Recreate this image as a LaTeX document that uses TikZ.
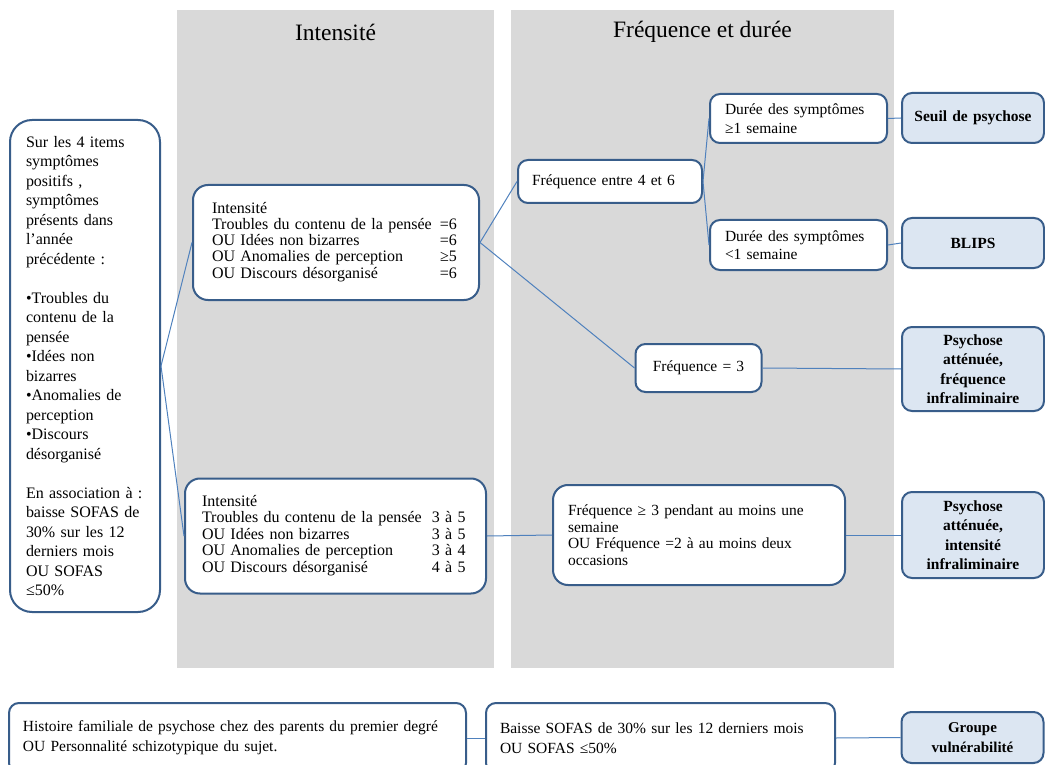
\documentclass[tikz,border=0pt]{standalone}
\usepackage{fontspec}
\setmainfont{Liberation Serif}
\definecolor{panelgray}{RGB}{217,217,217}
\definecolor{boxline}{RGB}{56,93,138}
\definecolor{linkblue}{RGB}{79,129,189}
\definecolor{outfill}{RGB}{220,230,242}

\begin{document}
\begin{tikzpicture}[
    x=1pt, y=-1pt,
    every node/.style={text=black},
    panel/.style={fill=panelgray, draw=none},
    heading/.style={font=\fontsize{23.5}{28}\selectfont},
    critbox/.style={draw=boxline, line width=2pt, fill=white, rounded corners=10pt,
      align=left, inner xsep=15pt, inner ysep=0pt, font=\fontsize{15.5}{18.5}\selectfont},
    outbox/.style={critbox, fill=outfill, align=center, inner xsep=8pt, text width=126pt,
      font=\fontsize{15.5}{19.5}\selectfont\bfseries},
    link/.style={draw=linkblue, line width=1pt}
  ]
  \useasboundingbox (0,0) rectangle (1045,765);
  \clip (0,0) rectangle (1045,765);

  %--------------------------------------
  % 1) grey panels with their headings
  %--------------------------------------
  \fill[panel] (177,10) rectangle (494,668);
  \fill[panel] (511,10) rectangle (894,668);
  \node[heading] (hInt) at (335.5,32) {Intensité};
  \node[heading] (hFreq) at (702.5,32) {Fréquence et durée};

  %--------------------------------------
  % 2) entry criteria (left column)
  %--------------------------------------
  \node[critbox, rounded corners=22pt, inner xsep=16pt, text width=118pt,
    minimum height=492pt, font=\fontsize{16}{19.5}\selectfont] (src) at (85,366)
    {Sur les 4 items\\ symptômes\\ positifs ,\\ symptômes\\ présents dans\\ l’année\\
     précédente :\\[19.5pt]
     •Troubles du\\ contenu de la\\ pensée\\ •Idées non\\ bizarres\\ •Anomalies de\\
     perception\\ •Discours\\ désorganisé\\[19.5pt]
     En association à :\\ baisse SOFAS de\\ 30\% sur les 12\\ derniers mois\\
     OU SOFAS\\ ≤50\%};

  %--------------------------------------
  % 3) intensity boxes
  %--------------------------------------
  \node[critbox, rounded corners=15pt, inner xsep=19pt, text width=248pt,
    minimum height=115pt, font=\fontsize{16}{16.3}\selectfont] (intA) at (336,242.5)
    {Intensité\\
     \begin{tabular}[t]{@{}l@{\hspace{8pt}}r@{}}
       Troubles du contenu de la pensée & =6\\
       OU Idées non bizarres & =6\\
       OU Anomalies de perception & ≥5\\
       OU Discours désorganisé & =6
     \end{tabular}};
  \node[critbox, rounded corners=15pt, inner xsep=17pt, text width=267pt,
    minimum height=115pt, font=\fontsize{16}{16.5}\selectfont] (intB) at (335.5,536)
    {Intensité\\
     \begin{tabular}[t]{@{}l@{\hspace{10pt}}r@{}}
       Troubles du contenu de la pensée & 3 à 5\\
       OU Idées non bizarres & 3 à 5\\
       OU Anomalies de perception & 3 à 4\\
       OU Discours désorganisé & 4 à 5
     \end{tabular}};

  %--------------------------------------
  % 4) frequency and duration boxes
  %--------------------------------------
  \node[critbox, inner xsep=14pt, text width=156pt, minimum height=43pt] (fqHigh) at (610,181.5)
    {Fréquence entre 4 et 6};
  \node[critbox, inner xsep=15pt, text width=147pt, minimum height=49pt] (durLong) at (798.5,118.5)
    {Durée des symptômes\\ ≥1 semaine};
  \node[critbox, inner xsep=15pt, text width=147pt, minimum height=50pt] (durShort) at (798.5,245)
    {Durée des symptômes\\ <1 semaine};
  \node[critbox, align=center, inner xsep=8pt, text width=110pt, minimum height=48pt] (fqThree) at (698.5,368)
    {Fréquence = 3};
  \node[critbox, rounded corners=15pt, inner xsep=15pt, text width=262pt, minimum height=100pt,
    font=\fontsize{15.5}{16.5}\selectfont] (fqWeek) at (699,535)
    {Fréquence ≥ 3 pendant au moins une\\ semaine\\ OU Fréquence =2 à au moins deux\\ occasions};

  %--------------------------------------
  % 5) outcomes (right column)
  %--------------------------------------
  \node[outbox, minimum height=50pt] (seuil) at (973,118) {Seuil de psychose};
  \node[outbox, minimum height=50pt] (blips) at (973,243) {BLIPS};
  \node[outbox, minimum height=84pt] (attFreq) at (973,369)
    {Psychose\\ atténuée,\\ fréquence\\ infraliminaire};
  \node[outbox, minimum height=86pt] (attInt) at (973,535)
    {Psychose\\ atténuée,\\ intensité\\ infraliminaire};

  %--------------------------------------
  % 6) vulnerability row (bottom)
  %--------------------------------------
  \node[critbox, inner xsep=14pt, text width=429pt, minimum height=70pt,
    font=\fontsize{15.5}{20}\selectfont] (famille) at (237.5,738)
    {Histoire familiale de psychose chez des parents du premier degré\\
     OU Personnalité schizotypique du sujet.};
  \node[critbox, inner xsep=14pt, text width=321pt, minimum height=70pt,
    font=\fontsize{15.5}{20}\selectfont] (sofas) at (660.5,738)
    {Baisse SOFAS de 30\% sur les 12 derniers mois\\ OU SOFAS ≤50\%};
  \node[outbox, minimum height=51pt, font=\fontsize{15}{20}\selectfont\bfseries] (groupe) at (972.5,737.5)
    {Groupe\\ vulnérabilité};

  %--------------------------------------
  % 7) connectors
  %--------------------------------------
  \draw[link] (src.east) -- (intA.west);
  \draw[link] (src.east) -- (intB.west);
  \draw[link] (intA.east) -- (fqHigh.west);
  \draw[link] (intA.east) -- (fqThree.west);
  \draw[link] (fqHigh.east) -- (durLong.west);
  \draw[link] (fqHigh.east) -- (durShort.west);
  \draw[link] (durLong.east) -- (seuil.west);
  \draw[link] (durShort.east) -- (blips.west);
  \draw[link] (fqThree.east) -- (attFreq.west);
  \draw[link] (intB.east) -- (fqWeek.west);
  \draw[link] (fqWeek.east) -- (attInt.west);
  \draw[link] (famille.east) -- (sofas.west);
  \draw[link] (sofas.east) -- (groupe.west);

\end{tikzpicture}
\end{document}
